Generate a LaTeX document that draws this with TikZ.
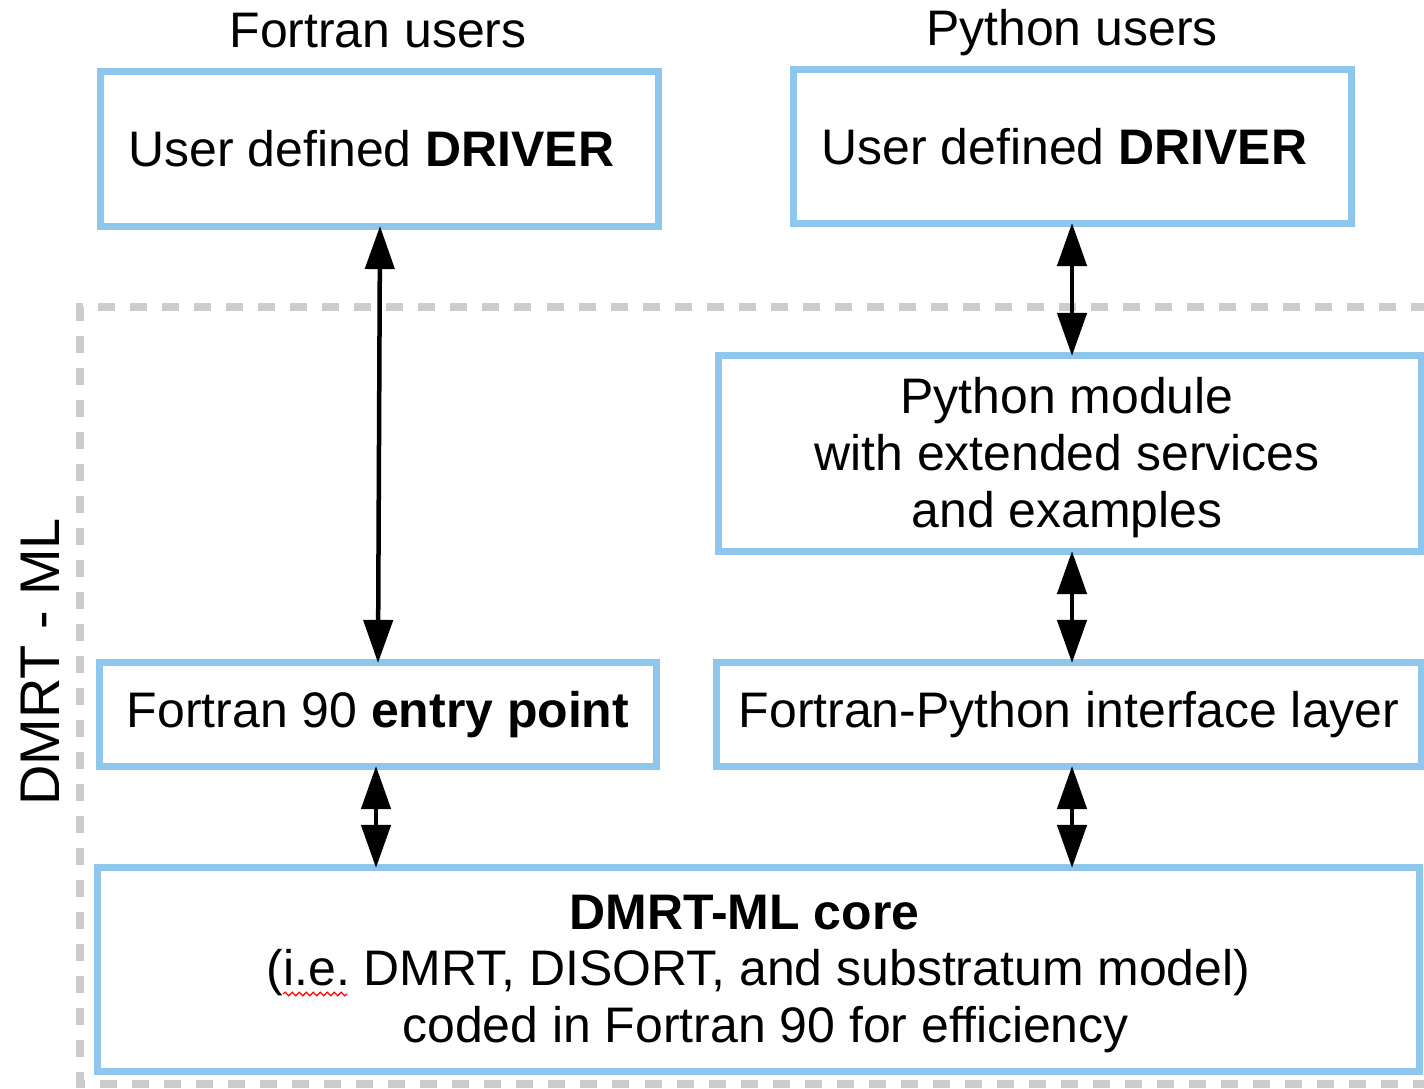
\documentclass[tikz,border=0pt]{standalone}
\usepackage{fontspec}
\setmainfont{Liberation Sans}
\usetikzlibrary{arrows.meta,decorations.pathmorphing}
\definecolor{boxblue}{RGB}{143,198,236}
\definecolor{dashgray}{RGB}{204,204,204}
\frenchspacing
\begin{document}
\begin{tikzpicture}[x=0.01cm,y=-0.01cm,
  box/.style={draw=boxblue,line width=0.07cm,rectangle,outer sep=0pt,inner sep=0pt,
    align=center,font=\fontsize{14.2}{16.2}\selectfont},
  lbl/.style={inner sep=0pt,font=\fontsize{14.2}{16.2}\selectfont},
  inlbl/.style={lbl,align=center,yshift=-0.045cm},
  biarrow/.style={line width=0.045cm,{Triangle[length=0.43cm,width=0.29cm]}-{Triangle[length=0.43cm,width=0.29cm]},shorten <=0pt,shorten >=0pt}]
\useasboundingbox (0,0) rectangle (1424,1089);
\clip (0,0) rectangle (1424,1089);
% dashed frame
\draw[dashgray,line width=0.08cm,dash pattern=on 0.17cm off 0.15cm] (1460,307) -- (80,307) -- (80,1084) -- (1460,1084);
\node[inner sep=0pt,font=\fontsize{15.9}{18}\selectfont,rotate=90] (dmrt) at (40,662) {DMRT - ML};
% titles
\node[lbl] (fu) at (378,31) {Fortran users};
\node[lbl] (pu) at (1072,33) {Python users};
% boxes
\node[box,minimum width=5.57cm,minimum height=1.54cm] (fd) at (379.5,149) {\hspace*{-0.16cm}User defined \textbf{DRIVER}};
\node[box,minimum width=5.57cm,minimum height=1.53cm] (pd) at (1072.5,146.5) {\hspace*{-0.16cm}User defined \textbf{DRIVER}};
\node[box,minimum width=7.02cm,minimum height=1.95cm,
  label={[inlbl,xshift=-0.03cm]center:Python module\\with extended services\\and examples}] (pm) at (1070,453.5) {};
\node[box,minimum width=5.56cm,minimum height=1.03cm] (fe) at (378,714.5) {Fortran 90 \textbf{entry point}};
\node[box,minimum width=7.04cm,minimum height=1.03cm] (fi) at (1069,714.5) {Fortran-Python interface layer};
\node[box,minimum width=13.21cm,minimum height=2.03cm,
  label={[inlbl]center:\textbf{DMRT-ML core}\hspace*{0.28cm}\\(i.e. DMRT, DISORT, and substratum model)\\\hspace*{0.14cm}coded in Fortran 90 for efficiency}] (core) at (758.5,969.5) {};
% spell-check underline
\coordinate (ua) at (283,994);
\coordinate (ub) at (347,994);
\draw[red,line width=0.012cm,decorate,decoration={snake,amplitude=0.018cm,segment length=0.07cm}] (ua) -- (ub);
% arrows
\draw[biarrow] (fd.south -| 380,0) -- (fe.north -| 378,0);
\draw[biarrow] (pd.south -| 1072,0) -- (pm.north -| 1072,0);
\draw[biarrow] (pm.south -| 1072,0) -- (fi.north -| 1072,0);
\draw[biarrow] (fe.south -| 376,0) -- (core.north -| 376,0);
\draw[biarrow] (fi.south -| 1072,0) -- (core.north -| 1072,0);
\end{tikzpicture}
\end{document}
